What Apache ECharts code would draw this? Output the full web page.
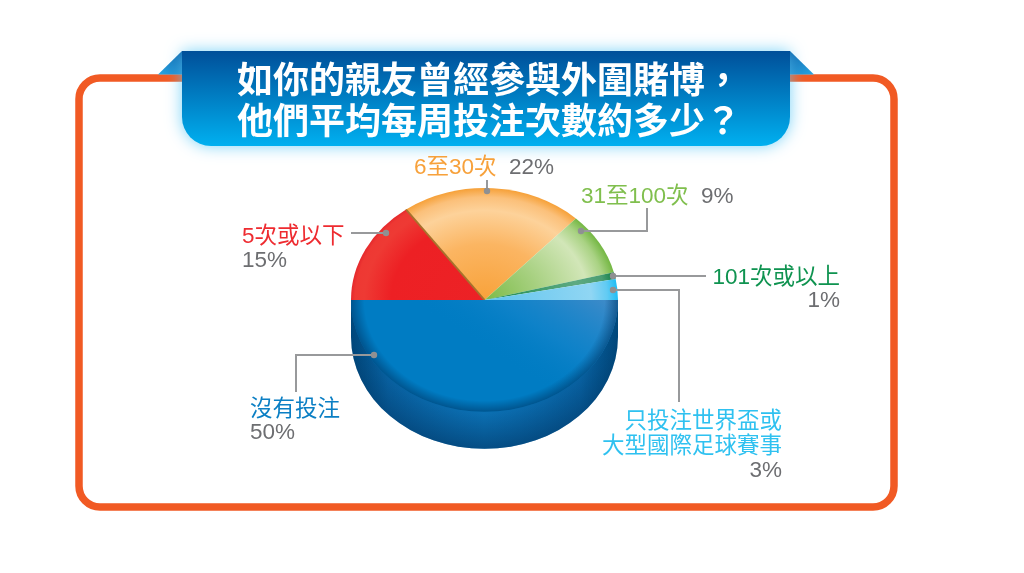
<!DOCTYPE html>
<html>
<head>
<meta charset="utf-8">
<style>html,body{margin:0;padding:0;background:#fff}#chart{width:1024px;height:573px}</style>
<script src="https://cdn.jsdelivr.net/npm/echarts@6/dist/echarts.min.js"></script>
</head>
<body>
<div id="chart"></div>
<script>
// Survey answers, in drawing order clockwise from the left edge of the pie
const categories = ['5次或以下', '6至30次', '31至100次', '101次或以上', '只投注世界盃或\n大型國際足球賽事', '沒有投注'];
const shares = [15, 22, 9, 1, 3, 50];
const titleLines = ['如你的親友曾經參與外圍賭博，', '他們平均每周投注次數約多少？'];

const sliceColors = ['#ed2024', '#f9a33d', '#7fbd4a', '#0b8348', '#2cc0f4', '#007cc3'];
const labelColors = ['#ee2b30', '#f7a13b', '#80bf4e', '#0f9350', '#2fc1f0', '#0b7fc4'];
const GREY = '#6d6e71';
const FONT = '"Liberation Sans","Noto Sans CJK TC",sans-serif';

// Pie geometry: a circle squashed vertically, with a side wall below it
const CX = 484.5, CY = 300, R = 133.5, SQUASH = 0.838, DEPTH = 37;

// Radial shading per slice: dark core to highlight band to saturated rim
const shading = [
  [[0, '#ec2226'], [0.7, '#ed2024'], [0.9, '#ee3a34'], [0.97, '#ee3833'], [1, '#e5282c']],
  [[0, '#f8a23a'], [0.5, '#fbb562'], [0.8, '#fdd29a'], [0.92, '#fbc07a'], [1, '#f6a139']],
  [[0, '#7cbb47'], [0.4, '#a6d07f'], [0.78, '#d2e6b8'], [0.91, '#a9d283'], [1, '#74b743']],
  [[0, '#178a4e'], [0.7, '#5eaa82'], [0.9, '#4a9d72'], [1, '#0a7c42']],
  [[0, '#60c4ee'], [0.8, '#90d6f3'], [0.92, '#62cbf3'], [1, '#1fbdf5']],
  [[0, '#007cc3'], [1, '#007cc3']]
];

function radial(stops, radius) {
  return {
    type: 'radial', x: 0, y: 0, r: radius, global: true,
    colorStops: stops.map(s => ({ offset: s[0], color: s[1] }))
  };
}

function startOf(index) {
  let sum = 0;
  for (let i = 0; i < index; i++) sum += shares[i];
  return Math.PI + sum / 100 * Math.PI * 2;
}

// One top-face slice, laid out from its share of the total
function renderSlice(params, api) {
  const i = params.dataIndex;
  const start = startOf(i);
  const end = start + api.value(0) / 100 * Math.PI * 2;
  const children = [{
    type: 'sector',
    shape: { cx: 0, cy: 0, r: R, r0: 0, startAngle: start, endAngle: end },
    style: { fill: radial(shading[i], R) }
  }];
  if (i === 5) {
    // Sheen across the upper right of the largest slice and its dark rim
    children.push({
      type: 'sector',
      shape: { cx: 0, cy: 0, r: R, r0: 0, startAngle: start, endAngle: end },
      style: {
        fill: {
          type: 'linear', global: true, x: 120, y: 0, x2: 45, y2: 95,
          colorStops: [
            { offset: 0, color: 'rgba(110,150,205,0.55)' },
            { offset: 0.55, color: 'rgba(50,145,215,0.28)' },
            { offset: 1, color: 'rgba(0,124,195,0)' }
          ]
        }
      }
    }, {
      type: 'sector',
      shape: { cx: 0, cy: 0, r: R, r0: 0, startAngle: start, endAngle: end },
      style: { fill: radial([[0, 'rgba(0,60,110,0)'], [0.9, 'rgba(0,60,110,0)'], [1, 'rgba(0,60,110,0.62)']], R) }
    });
  }
  if (i === 1) {
    // Brown seam between the red and orange slices
    children.push({
      type: 'line',
      shape: { x1: 0, y1: 0, x2: R * Math.cos(start), y2: R * Math.sin(start) },
      style: { stroke: '#a8712c', lineWidth: 2 }
    });
  }
  return { type: 'group', x: CX, y: CY, scaleY: SQUASH, children };
}

// Side wall below the top face
function renderWall() {
  const drop = DEPTH / SQUASH;
  const fill = {
    type: 'linear', global: true, x: -R, y: 0, x2: R, y2: 0,
    colorStops: [
      { offset: 0, color: '#00487c' }, { offset: 0.14, color: '#085f9e' },
      { offset: 0.5, color: '#0b6fb2' }, { offset: 0.86, color: '#085f9e' },
      { offset: 1, color: '#00487c' }
    ]
  };
  const shade = {
    type: 'radial', global: true, x: 0, y: 0, r: R + drop,
    colorStops: [
      { offset: 0, color: 'rgba(0,50,95,0)' }, { offset: 0.76, color: 'rgba(0,50,95,0)' },
      { offset: 1, color: 'rgba(0,50,95,0.55)' }
    ]
  };
  const body = [
    { type: 'rect', shape: { x: -R, y: 0, width: 2 * R, height: drop } },
    { type: 'sector', shape: { cx: 0, cy: drop, r: R, r0: 0, startAngle: 0, endAngle: Math.PI } }
  ];
  return {
    type: 'group', x: CX, y: CY, scaleY: SQUASH,
    children: body.map(b => ({ ...b, style: { fill } })).concat(body.map(b => ({ ...b, style: { fill: shade } })))
  };
}

// Rounded frame, title ribbon and its folded corners
const foldFill = (x, x2) => ({
  type: 'linear', x, y: 0, x2, y2: 1,
  colorStops: [{ offset: 0, color: '#0a5fa8' }, { offset: 1, color: '#2aa8e4' }]
});
const backdrop = [
  { type: 'rect', z: 1, shape: { x: 79, y: 78, width: 815, height: 429, r: 21 },
    style: { fill: '#fff', stroke: '#f15a24', lineWidth: 7.5 } },
  { type: 'polygon', z: 2, shape: { points: [[182, 51], [158, 74.5], [182, 74.5]] }, style: { fill: foldFill(1, 0) } },
  { type: 'polygon', z: 2, shape: { points: [[790, 51], [814, 74.5], [790, 74.5]] }, style: { fill: foldFill(0, 1) } },
  { type: 'rect', z: 3, shape: { x: 182, y: 51, width: 608, height: 95, r: [0, 0, 29, 29] },
    style: {
      fill: { type: 'linear', x: 0, y: 0, x2: 0, y2: 1, colorStops: [{ offset: 0, color: '#004f99' }, { offset: 1, color: '#00b0f0' }] },
      shadowBlur: 16, shadowColor: 'rgba(90,200,245,0.8)'
    } }
];

// Leader lines with a dot on each slice
const leaders = [
  [[386, 233], [351, 233]],
  [[487, 191], [487, 180]],
  [[581, 231], [647, 231], [647, 208]],
  [[613, 276], [706, 276]],
  [[613, 290], [679, 290], [679, 402]],
  [[374, 355], [296, 355], [296, 392]]
];
const leaderMarks = leaders.flatMap(points => [
  { type: 'polyline', z: 6, shape: { points }, style: { fill: null, stroke: '#98999b', lineWidth: 2 } },
  { type: 'circle', z: 7, shape: { cx: points[0][0], cy: points[0][1], r: 3.2 }, style: { fill: '#8f9092' } }
]);

// Category and percentage text for each slice
function text(x, y, str, fill, align) {
  return {
    type: 'text', z: 8, x, y,
    style: { text: str, fill, font: '22.5px ' + FONT, textAlign: align || 'left', textVerticalAlign: 'middle', lineHeight: 25 }
  };
}
const pct = i => shares[i] + '%';
const nameLines = categories[4].split('\n');
const labels = [
  text(242, 237, categories[0], labelColors[0]), text(242, 261, pct(0), GREY),
  text(414, 168, categories[1], labelColors[1]), text(509, 168, pct(1), GREY),
  text(581, 197, categories[2], labelColors[2]), text(701, 197, pct(2), GREY),
  text(840, 278, categories[3], labelColors[3], 'right'), text(840, 301, pct(3), GREY, 'right'),
  text(782, 422, nameLines[0], labelColors[4], 'right'), text(782, 447, nameLines[1], labelColors[4], 'right'),
  text(782, 471, pct(4), GREY, 'right'),
  text(250, 410, categories[5], labelColors[5]), text(250, 433, pct(5), GREY)
];

const chart = echarts.init(document.getElementById('chart'), null, { renderer: 'canvas' });
chart.setOption({
  animation: false,
  backgroundColor: '#fff',
  title: {
    text: titleLines.join('\n'),
    left: 232, top: 54, z: 9,
    textStyle: { color: '#fff', fontFamily: '"Noto Sans CJK TC",sans-serif', fontWeight: 'bold', fontSize: 36, lineHeight: 41 }
  },
  graphic: { elements: backdrop.concat(leaderMarks, labels) },
  series: [
    { type: 'custom', coordinateSystem: 'none', z: 4, data: [[shares[5]]], renderItem: renderWall, silent: true },
    {
      type: 'custom', coordinateSystem: 'none', z: 5, silent: true,
      data: shares.map((v, i) => ({ name: categories[i], value: [v], itemStyle: { color: sliceColors[i] } })),
      renderItem: renderSlice
    }
  ]
});
</script>
</body>
</html>
